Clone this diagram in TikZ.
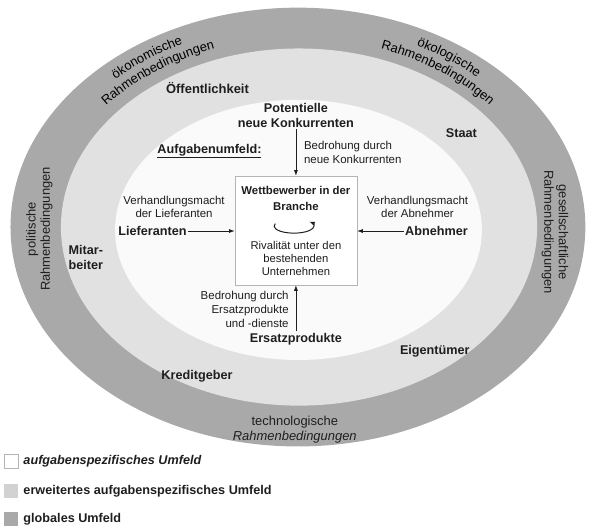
\documentclass[tikz,border=0pt]{standalone}
\usepackage{fontspec}
\setmainfont{Liberation Sans}
\usetikzlibrary{arrows.meta,positioning,decorations.text}
\definecolor{umGlobal}{HTML}{A9A9A9}
\definecolor{umErw}{HTML}{E1E1E1}
\definecolor{umAufg}{HTML}{FAFAFA}
\definecolor{umRule}{HTML}{B4B4B4}
\definecolor{umInk}{HTML}{1E1E1E}
\newcommand{\smallfnt}{\fontsize{11.5}{14}\selectfont}
\newcommand{\boldfnt}{\fontsize{12.7}{15}\selectfont\bfseries}
\newcommand{\bandfnt}{\fontsize{13}{14.5}\selectfont}

\begin{document}
\begin{tikzpicture}[text=umInk,
  t/.style={font=\smallfnt,align=center,inner sep=0pt},
  lbl/.style={font=\boldfnt,align=center,inner sep=1.5pt},
  band/.style={font=\bandfnt,align=center,inner sep=0pt},
  box/.style={draw=umRule,fill=white,minimum width=4.3cm,minimum height=3.84cm,
              line width=0.5pt},
  a/.style={-{Latex[length=2mm,width=1.4mm]},umInk,line width=0.7pt},
  curv/.style={decorate,decoration={text along path,text align=center,
               text={|\bandfnt|#1}}},
  leg/.style={draw=umRule,minimum size=0.49cm,inner sep=0pt,line width=0.4pt}]
\useasboundingbox (-10.51,-10.69) rectangle (10.34,8.01);
% the three fields
\fill[umGlobal] (0,0) ellipse [x radius=10.14, y radius=7.74];
\fill[umErw] (0.04,0) ellipse [x radius=8.40, y radius=6.30];
\fill[umAufg] (0.02,-0.1) ellipse [x radius=6.47, y radius=4.59];
% global field
\path[curv=ökonomische] (156:9.38 and 7.16)
  arc[start angle=156,end angle=96,x radius=9.38,y radius=7.16];
\path[curv=Rahmenbedingungen] (156:8.82 and 6.67)
  arc[start angle=156,end angle=96,x radius=8.82,y radius=6.67];
\path[curv=ökologische] (84:9.38 and 7.16)
  arc[start angle=84,end angle=24,x radius=9.38,y radius=7.16];
\path[curv=Rahmenbedingungen] (84:8.82 and 6.67)
  arc[start angle=84,end angle=24,x radius=8.82,y radius=6.67];
\node[band,rotate=90] (pol) at (-9.12,-0.07) {politische\\Rahmenbedingungen};
\node[band,rotate=-90] (ges) at (9.07,-0.18) {gesellschaftliche\\Rahmenbedingungen};
\node[band] (tech) at (-0.11,-7.14) {technologische\\\textit{Rahmenbedingungen}};
% extended field
\node[lbl,font=\fontsize{13}{15}\selectfont\bfseries] (oef) at (-3.19,4.90) {Öffentlichkeit};
\node[lbl] (staat) at (5.77,3.32) {Staat};
\node[lbl,align=left] (mit) at (-7.48,-1.06) {Mitar-\\beiter};
\node[lbl] (eig) at (4.83,-4.37) {Eigentümer};
\node[lbl] (kred) at (-3.56,-5.26) {Kreditgeber};
% task field
\node[box] (wb) at (-0.07,-0.12) {};
\node[lbl,font=\fontsize{11.4}{16}\selectfont\bfseries,inner sep=0pt] (wbt) at (-0.07,1.02)
  {Wettbewerber in der\\Branche};
\node[t,font=\fontsize{11.3}{13.5}\selectfont] (riv) at (-0.07,-1.11)
  {Rivalität unter den\\bestehenden\\Unternehmen};
\draw[a,line width=1pt] (-0.14,0.035) ++(160:0.7 and 0.25)
  arc[start angle=160,end angle=400,x radius=0.7,y radius=0.25];
\node[lbl] (pot) at (-0.07,3.93) {Potentielle\\neue Konkurrenten};
\node[t,anchor=west,align=left] (bpot) at (0.21,2.63) {Bedrohung durch\\neue Konkurrenten};
\node[lbl] (aufg) at (-3.12,2.68) {\underline{Aufgabenumfeld:}};
\node[t] (vl) at (-4.37,0.71) {Verhandlungsmacht\\der Lieferanten};
\node[lbl] (lief) at (-5.13,-0.14) {Lieferanten};
\node[t] (va) at (4.22,0.71) {Verhandlungsmacht\\der Abnehmer};
\node[lbl] (abn) at (4.89,-0.14) {Abnehmer};
\node[t,anchor=east,align=right] (bers) at (-0.32,-2.91)
  {Bedrohung durch\\Ersatzprodukte\\und -dienste};
\node[lbl] (ers) at (-0.07,-3.95) {Ersatzprodukte};
\draw[a] (pot) -- (wb);
\draw[a] (lief.east) -- (lief.east -| wb.west);
\draw[a] (abn.west) -- (abn.west -| wb.east);
\draw[a] (ers) -- (wb);
% legend
\node[leg,fill=white] (lg1) at (-10.12,-8.25) {};
\node[leg,fill=umErw!85!gray,draw=none] (lg2) at (-10.12,-9.31) {};
\node[leg,fill=umGlobal,draw=none] (lg3) at (-10.12,-10.30) {};
\node[font=\boldfnt\itshape,inner sep=0pt,right=0.18cm of lg1] (lt1) {aufgabenspezifisches Umfeld};
\node[font=\boldfnt,inner sep=0pt,right=0.18cm of lg2] (lt2) {erweitertes aufgabenspezifisches Umfeld};
\node[font=\boldfnt,inner sep=0pt,right=0.18cm of lg3] (lt3) {globales Umfeld};
\end{tikzpicture}
\end{document}
